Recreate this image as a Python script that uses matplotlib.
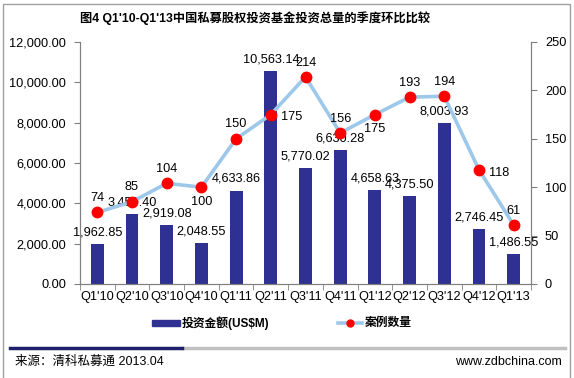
import matplotlib.pyplot as plt
import numpy as np
from matplotlib.lines import Line2D
from matplotlib.patches import Rectangle

plt.rcParams['font.family'] = ['Liberation Sans', 'Noto Sans CJK SC', 'DejaVu Sans']

quarters = ["Q1'10", "Q2'10", "Q3'10", "Q4'10", "Q1'11", "Q2'11", "Q3'11",
            "Q4'11", "Q1'12", "Q2'12", "Q3'12", "Q4'12", "Q1'13"]
amount = [1962.85, 3450.40, 2919.08, 2048.55, 4633.86, 10563.14, 5770.02,
          6630.28, 4658.63, 4375.50, 8003.93, 2746.45, 1486.55]
cases = [74, 85, 104, 100, 150, 175, 214, 156, 175, 193, 194, 118, 61]

# where each case label sits relative to its point
case_pos = ['up', 'up', 'up', 'down', 'up', 'right', 'up',
            'up', 'down', 'up', 'up', 'right', 'up']

bar_color = '#2E3192'
line_color = '#9DC8EA'
fs = 9.2

fig = plt.figure(figsize=(5.74, 3.78), dpi=100)
ax = fig.add_axes([80/574, 1-284/378, 451/574, 242/378])
ax2 = ax.twinx()

x = np.arange(len(quarters))
ax.bar(x, amount, width=0.37, color=bar_color, zorder=2)
ax2.plot(x, cases, color=line_color, lw=2.6, marker='o', ms=7.5,
         mfc='#FF0000', mec='#FF0000', zorder=3)

ax.set_xlim(-0.5, len(quarters) - 0.5)
ax.set_ylim(0, 12000)
ax2.set_ylim(0, 250)
ax.set_yticks(np.arange(0, 12001, 2000))
ax.set_yticklabels([f'{v:,.2f}' for v in np.arange(0, 12001, 2000)], fontsize=fs)
ax2.set_yticks(np.arange(0, 251, 50))
ax2.set_yticklabels([str(v) for v in range(0, 251, 50)], fontsize=fs)

ax.set_xticks(x)
ax.set_xticklabels(quarters, fontsize=fs)
ax.tick_params(axis='x', length=0, pad=5)
ax.set_xticks(np.arange(-0.5, len(quarters), 1), minor=True)
ax.tick_params(axis='x', which='minor', length=4, color='#808080')
ax.tick_params(axis='y', length=4, color='#808080', pad=6)
ax2.tick_params(axis='y', length=4, color='#808080', pad=6)

for a in (ax, ax2):
    a.spines['top'].set_visible(False)
    for s in ('left', 'right', 'bottom'):
        a.spines[s].set_color('#808080')

for xi, v in zip(x, amount):
    ax.annotate(f'{v:,.2f}', (xi, v), xytext=(0, 4), textcoords='offset points',
                ha='center', va='bottom', fontsize=fs, zorder=4)

offsets = {'up': ((0, 6), 'center', 'bottom'),
           'down': ((0, -6), 'center', 'top'),
           'right': ((7, -2), 'left', 'center')}
for xi, v, p in zip(x, cases, case_pos):
    off, ha, va = offsets[p]
    ax2.annotate(str(v), (xi, v), xytext=off, textcoords='offset points',
                 ha=ha, va=va, fontsize=fs, zorder=4)

fig.text(255/574, 1-18/378, "图4 Q1'10-Q1'13中国私募股权投资基金投资总量的季度环比比较",
         ha='center', va='center', fontsize=8.8, fontweight='bold')

# legend
fig.patches.append(Rectangle((152/574, 1-326/378), 28/574, 6/378,
                             transform=fig.transFigure, color=bar_color))
fig.text(182/574, 1-323/378, '投资金额(US$M)', ha='left', va='center',
         fontsize=8.5, fontweight='bold')
fig.lines.append(Line2D([338/574, 362/574], [1-323/378, 1-323/378],
                        transform=fig.transFigure, color=line_color, lw=2.6))
fig.lines.append(Line2D([350/574], [1-323/378], transform=fig.transFigure,
                        marker='o', ms=5, color='#FF0000', lw=0))
fig.text(365/574, 1-323/378, '案例数量', ha='left', va='center',
         fontsize=8.5, fontweight='bold')

# footer
fig.lines.append(Line2D([182/574, 565/574], [1-348/378, 1-348/378],
                        transform=fig.transFigure, color='#C0C0C0', lw=2.5))
fig.lines.append(Line2D([10/574, 182/574], [1-348/378, 1-348/378],
                        transform=fig.transFigure, color='#1F1F6E', lw=2.5))
fig.text(15/574, 1-362/378, '来源：清科私募通 2013.04', ha='left', va='center',
         fontsize=9)
fig.text(562/574, 1-362/378, 'www.zdbchina.com', ha='right', va='center',
         fontsize=9)

# outer frame
fig.patches.append(Rectangle((3/574, -0.01), 567/574, 1.0,
                             transform=fig.transFigure, fill=False,
                             ec='#A0A0A0', lw=1))

fig.savefig('out.png', dpi=100)
